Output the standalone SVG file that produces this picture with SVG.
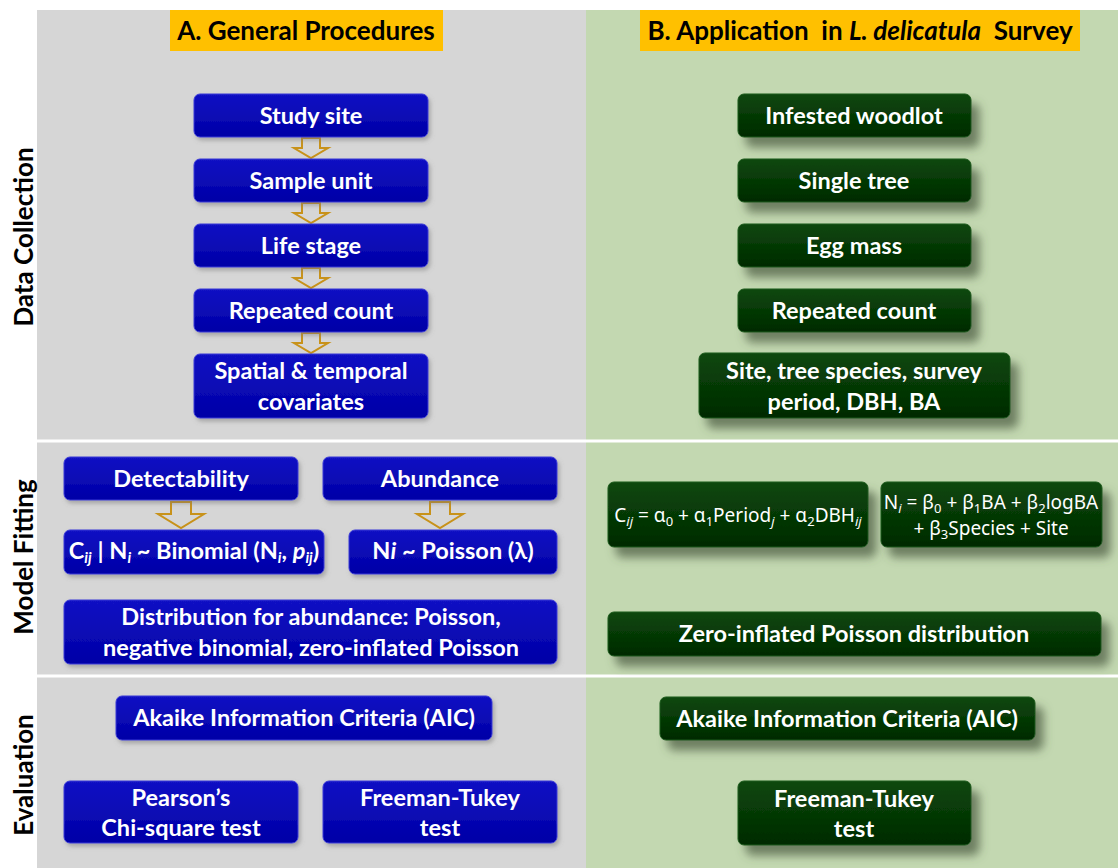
<svg xmlns="http://www.w3.org/2000/svg" width="1118" height="868" viewBox="0 0 1118 868">
<defs>
<linearGradient id="gb" x1="0" y1="0" x2="0" y2="1"><stop offset="0" stop-color="#1212c4"/><stop offset="1" stop-color="#0000a6"/></linearGradient>
<linearGradient id="gg" x1="0" y1="0" x2="0" y2="1"><stop offset="0" stop-color="#0c480c"/><stop offset="1" stop-color="#002a00"/></linearGradient>
<filter id="sh" x="-20%" y="-30%" width="150%" height="180%"><feDropShadow dx="8" dy="10" stdDeviation="5" flood-color="#4a5a40" flood-opacity="0.7"/></filter>
<filter id="shb" x="-10%" y="-20%" width="130%" height="150%"><feDropShadow dx="2" dy="3" stdDeviation="2" flood-color="#777" flood-opacity="0.5"/></filter>
</defs>
<style>
.bx{fill:url(#gb);stroke:#3a3ad8;stroke-width:1;filter:url(#shb)}
.gx{fill:url(#gg);stroke:#1d5a1d;stroke-width:1;filter:url(#sh)}
.t{font-family:Lato,"Open Sans",sans-serif;font-weight:bold;font-size:23.5px;fill:#ffffff;text-anchor:middle}
.f{font-family:"Noto Sans","Open Sans",sans-serif;font-weight:normal;font-size:19px;fill:#ffffff;text-anchor:middle}
.sl{font-family:Lato,"Open Sans",sans-serif;font-weight:bold;font-size:26px;fill:#000;text-anchor:middle}
.ttl{font-family:Lato,"Open Sans",sans-serif;font-weight:bold;font-size:26px;fill:#000;text-anchor:middle;white-space:pre}
.ar{fill:#d6d6d6;stroke:#c8921a;stroke-width:2;stroke-linejoin:miter}
</style>
<rect x="0" y="0" width="1118" height="868" fill="#ffffff"/>
<rect x="37" y="10" width="549" height="858" fill="#d6d6d6"/>
<rect x="586" y="10" width="532" height="858" fill="#c3d8b1"/>
<line x1="37" y1="441" x2="1118" y2="441" stroke="#ffffff" stroke-width="3"/>
<line x1="37" y1="676" x2="1118" y2="676" stroke="#ffffff" stroke-width="3"/>

<g id="title-a"><rect x="170" y="10" width="273" height="41" fill="#ffc000"/><text class="ttl" x="306" y="40">A. General Procedures</text></g>
<g id="title-b"><rect x="640" y="10" width="440" height="41" fill="#ffc000"/><text class="ttl" x="860" y="40" xml:space="preserve">B. Application  in <tspan font-style="italic">L. delicatula</tspan>  Survey</text></g>

<g id="label-data"><text class="sl" transform="translate(33,237) rotate(-90)">Data Collection</text></g>
<g id="label-model"><text class="sl" transform="translate(33,557) rotate(-90)">Model Fitting</text></g>
<g id="label-eval"><text class="sl" transform="translate(33,775) rotate(-90)">Evaluation</text></g>

<g id="connectors">
<path class="ar" d="M302,138 h18 v10 h8 l-17,10 l-17,-10 h8 z"/>
<path class="ar" d="M302,203 h18 v10 h8 l-17,10 l-17,-10 h8 z"/>
<path class="ar" d="M302,268 h18 v10 h8 l-17,10 l-17,-10 h8 z"/>
<path class="ar" d="M302,333 h18 v10 h8 l-17,10 l-17,-10 h8 z"/>
<path class="ar" d="M171,502 h20 v12 h13 l-23,14 l-23,-14 h13 z"/>
<path class="ar" d="M430,502 h20 v12 h13 l-23,14 l-23,-14 h13 z"/>
</g>

<g id="a-study-site"><rect class="bx" x="194" y="94" width="234" height="43" rx="6"/><text class="t" x="311" y="124">Study site</text></g>
<g id="a-sample-unit"><rect class="bx" x="194" y="159" width="234" height="43" rx="6"/><text class="t" x="311" y="189">Sample unit</text></g>
<g id="a-life-stage"><rect class="bx" x="194" y="224" width="234" height="43" rx="6"/><text class="t" x="311" y="254">Life stage</text></g>
<g id="a-repeated-count"><rect class="bx" x="194" y="289" width="234" height="43" rx="6"/><text class="t" x="311" y="319">Repeated count</text></g>
<g id="a-covariates"><rect class="bx" x="194" y="354" width="234" height="64" rx="6"/><text class="t" x="311" y="379">Spatial &amp; temporal</text><text class="t" x="311" y="410">covariates</text></g>

<g id="b-woodlot"><rect class="gx" x="738" y="94" width="233" height="43" rx="6"/><text class="t" x="854" y="124">Infested woodlot</text></g>
<g id="b-tree"><rect class="gx" x="738" y="159" width="233" height="43" rx="6"/><text class="t" x="854" y="189">Single tree</text></g>
<g id="b-egg"><rect class="gx" x="738" y="224" width="233" height="43" rx="6"/><text class="t" x="854" y="254">Egg mass</text></g>
<g id="b-repeated"><rect class="gx" x="738" y="289" width="233" height="43" rx="6"/><text class="t" x="854" y="319">Repeated count</text></g>
<g id="b-covariates"><rect class="gx" x="699" y="353" width="311" height="65" rx="6"/><text class="t" x="854" y="379">Site, tree species, survey</text><text class="t" x="854" y="410">period, DBH, BA</text></g>

<g id="a-detectability"><rect class="bx" x="64" y="457" width="234" height="43" rx="6"/><text class="t" x="181" y="487">Detectability</text></g>
<g id="a-abundance"><rect class="bx" x="323" y="457" width="234" height="43" rx="6"/><text class="t" x="440" y="487">Abundance</text></g>
<g id="a-binomial"><rect class="bx" x="64" y="530" width="260" height="44" rx="6"/><text class="t" x="194" y="559" font-size="22">C<tspan font-size="15" dy="4" font-style="italic">ij</tspan><tspan dy="-4"> | N</tspan><tspan font-size="15" dy="4" font-style="italic">i</tspan><tspan dy="-4"> ~ Binomial (N</tspan><tspan font-size="15" dy="4" font-style="italic">i</tspan><tspan dy="-4">, </tspan><tspan font-style="italic">p</tspan><tspan font-size="15" dy="4" font-style="italic">ij</tspan><tspan dy="-4">)</tspan></text></g>
<g id="a-poisson"><rect class="bx" x="349" y="530" width="208" height="44" rx="6"/><text class="t" x="453" y="559" font-size="22">N<tspan font-style="italic">i</tspan> ~ Poisson (λ)</text></g>
<g id="a-distribution"><rect class="bx" x="64" y="600" width="493" height="64" rx="6"/><text class="t" x="311" y="625">Distribution for abundance: Poisson,</text><text class="t" x="311" y="656">negative binomial, zero-inflated Poisson</text></g>

<g id="b-detect-formula"><rect class="gx" x="608" y="482" width="260" height="65" rx="6"/><text class="f" x="738" y="522">C<tspan font-size="13" dy="4" font-style="italic">ij</tspan><tspan dy="-4"> = α</tspan><tspan font-size="13" dy="4">0</tspan><tspan dy="-4"> + α</tspan><tspan font-size="13" dy="4">1</tspan><tspan dy="-4">Period</tspan><tspan font-size="13" dy="4" font-style="italic">j</tspan><tspan dy="-4"> + α</tspan><tspan font-size="13" dy="4">2</tspan><tspan dy="-4">DBH</tspan><tspan font-size="13" dy="4" font-style="italic">ij</tspan></text></g>
<g id="b-abund-formula"><rect class="gx" x="881" y="482" width="221" height="65" rx="6"/><text class="f" x="991" y="509">N<tspan font-size="13" dy="4" font-style="italic">i</tspan><tspan dy="-4"> = β</tspan><tspan font-size="13" dy="4">0</tspan><tspan dy="-4"> + β</tspan><tspan font-size="13" dy="4">1</tspan><tspan dy="-4">BA + β</tspan><tspan font-size="13" dy="4">2</tspan><tspan dy="-4">logBA</tspan></text><text class="f" x="991" y="535">+ β<tspan font-size="13" dy="4">3</tspan><tspan dy="-4">Species + Site</tspan></text></g>
<g id="b-zip"><rect class="gx" x="608" y="612" width="493" height="44" rx="6"/><text class="t" x="854" y="642">Zero-inflated Poisson distribution</text></g>

<g id="a-aic"><rect class="bx" x="116" y="696" width="376" height="44" rx="6"/><text class="t" x="304" y="726">Akaike Information Criteria (AIC)</text></g>
<g id="a-pearson"><rect class="bx" x="64" y="781" width="234" height="62" rx="6"/><text class="t" x="181" y="806">Pearson’s</text><text class="t" x="181" y="836">Chi-square test</text></g>
<g id="a-freeman"><rect class="bx" x="323" y="781" width="234" height="62" rx="6"/><text class="t" x="440" y="806">Freeman-Tukey</text><text class="t" x="440" y="836">test</text></g>

<g id="b-aic"><rect class="gx" x="660" y="697" width="375" height="43" rx="6"/><text class="t" x="847" y="727">Akaike Information Criteria (AIC)</text></g>
<g id="b-freeman"><rect class="gx" x="738" y="781" width="233" height="64" rx="6"/><text class="t" x="854" y="807">Freeman-Tukey</text><text class="t" x="854" y="837">test</text></g>
</svg>
